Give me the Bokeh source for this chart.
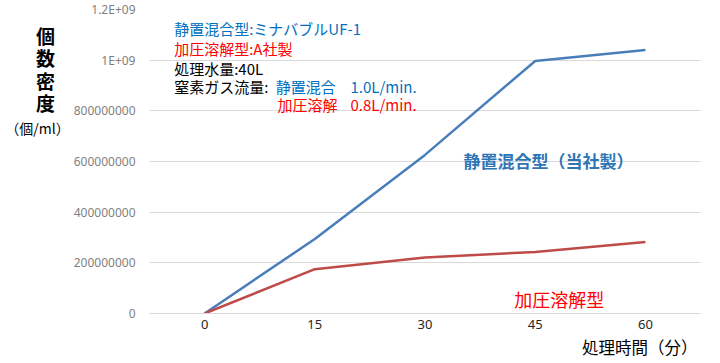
from bokeh.plotting import figure
from bokeh.models import Label, FixedTicker, Range1d, Title
from bokeh.layouts import row
from bokeh.core.properties import value
from bokeh.embed import file_html
from bokeh.resources import INLINE

# ---- data ----
TIME = [0, 15, 30, 45, 60]                       # 処理時間（分）
STATIC_MIX = [0, 2.94e8, 6.26e8, 0.997e9, 1.04e9]  # 静置混合型（当社製）
PRESSURE = [0, 1.75e8, 2.21e8, 2.43e8, 2.82e8]     # 加圧溶解型
YTICKS = [0, 2e8, 4e8, 6e8, 8e8, 1e9, 1.2e9]
YTICK_LABELS = ["0", "200000000", "400000000", "600000000", "800000000", "1E+09", "1.2E+09"]
XTICKS = [0, 15, 30, 45, 60]
YTITLE_CHARS = ["個", "数", "密", "度"]
YTITLE_UNIT = "（個/ml）"
XTITLE = "処理時間（分）"

JP = "Noto Sans CJK JP"
BLUE_LINE = "#4a7ebb"
RED_LINE = "#be4b48"
BLUE_TXT = "#0070c0"
RED_TXT = "#ff0000"

LEFT_W = 70
H = 360
TOP, BOTTOM = 9, 47          # borders shared by both panels (frames are aligned)

# ---- left strip holding the stacked y-axis title (page-pixel coordinates) ----
q = figure(width=LEFT_W, height=H, output_backend="svg", toolbar_location=None,
           x_range=Range1d(0, LEFT_W), y_range=Range1d(H - BOTTOM, TOP),
           x_axis_location=None, y_axis_location=None,
           min_border_left=0, min_border_right=0, min_border_top=TOP,
           min_border_bottom=BOTTOM)
q.outline_line_color = None
q.grid.visible = False
q.text(x=[45] * len(YTITLE_CHARS), y=[35 + 22.3 * i for i in range(len(YTITLE_CHARS))],
       text=YTITLE_CHARS, text_font=value(JP), text_font_size="19px",
       text_font_style="bold", text_color="black", text_align="center",
       text_baseline="middle")
q.text(x=[37], y=[127], text=[YTITLE_UNIT], text_font=value(JP),
       text_font_size="14px", text_color="black", text_align="center",
       text_baseline="middle")

# ---- main chart ----
p = figure(width=712 - LEFT_W, height=H, output_backend="svg", toolbar_location=None,
           x_range=Range1d(-7.5, 67.5), y_range=Range1d(0, 1.2e9),
           min_border_left=147 - LEFT_W, min_border_right=12, min_border_top=TOP,
           min_border_bottom=BOTTOM)
p.outline_line_color = None
p.background_fill_color = "white"
p.border_fill_color = "white"
p.xgrid.visible = False
p.ygrid.grid_line_color = "#d9d9d9"
p.ygrid.grid_line_width = 1

ya = p.yaxis[0]
ya.ticker = FixedTicker(ticks=YTICKS)
ya.major_label_overrides = {float(t): l for t, l in zip(YTICKS, YTICK_LABELS)}
ya.axis_line_color = None
ya.major_tick_line_color = None
ya.minor_tick_line_color = None
ya.major_tick_out = 0
ya.major_tick_in = 0
ya.major_label_standoff = 14
ya.major_label_text_color = "#7f7f7f"
ya.major_label_text_font = "Noto Sans"
ya.major_label_text_font_size = "12px"

xa = p.xaxis[0]
xa.ticker = FixedTicker(ticks=XTICKS)
xa.axis_line_color = "#d9d9d9"
xa.major_tick_line_color = None
xa.minor_tick_line_color = None
xa.major_tick_out = 0
xa.major_tick_in = 0
xa.major_label_standoff = 6
xa.major_label_text_color = "#262626"
xa.major_label_text_font = "Noto Sans"
xa.major_label_text_font_size = "13px"

p.add_layout(Title(text=XTITLE, align="right", offset=3, standoff=2,
                   text_font=JP, text_font_size="16.5px", text_font_style="normal",
                   text_color="black"), "below")

p.line(TIME, STATIC_MIX, line_color=BLUE_LINE, line_width=2.5, line_join="round")
p.line(TIME, PRESSURE, line_color=RED_LINE, line_width=2.5, line_join="round")


def lab(x, y, text, color, size="15px", style="normal"):
    # x, y in screen pixels measured from the plot frame's bottom-left corner
    p.add_layout(Label(x=x, y=y, x_units="screen", y_units="screen", text=text,
                       text_color=color, text_font=JP,
                       text_font_size=size, text_font_style=style,
                       text_align="left", text_baseline="middle"))


# notes block
lab(24.7, 284.7, "静置混合型:ミナバブルUF-1", BLUE_TXT)
lab(24.7, 264.7, "加圧溶解型:A社製", RED_TXT)
lab(24.7, 245.3, "処理水量:40L", "black")
lab(24.7, 227, "窒素ガス流量:", "black")
lab(126.3, 227, "静置混合", BLUE_TXT)
lab(201, 227, "1.0L/min.", BLUE_TXT)
lab(128, 208.7, "加圧溶解", RED_TXT)
lab(201, 208.7, "0.8L/min.", RED_TXT)

# series labels
lab(314, 153, "静置混合型（当社製）", "#2e75b6", size="17px", style="bold")
lab(364.7, 14.7, "加圧溶解型", RED_TXT, size="18px")

layout = row(q, p)
open("out.html", "w").write(file_html(layout, INLINE))
